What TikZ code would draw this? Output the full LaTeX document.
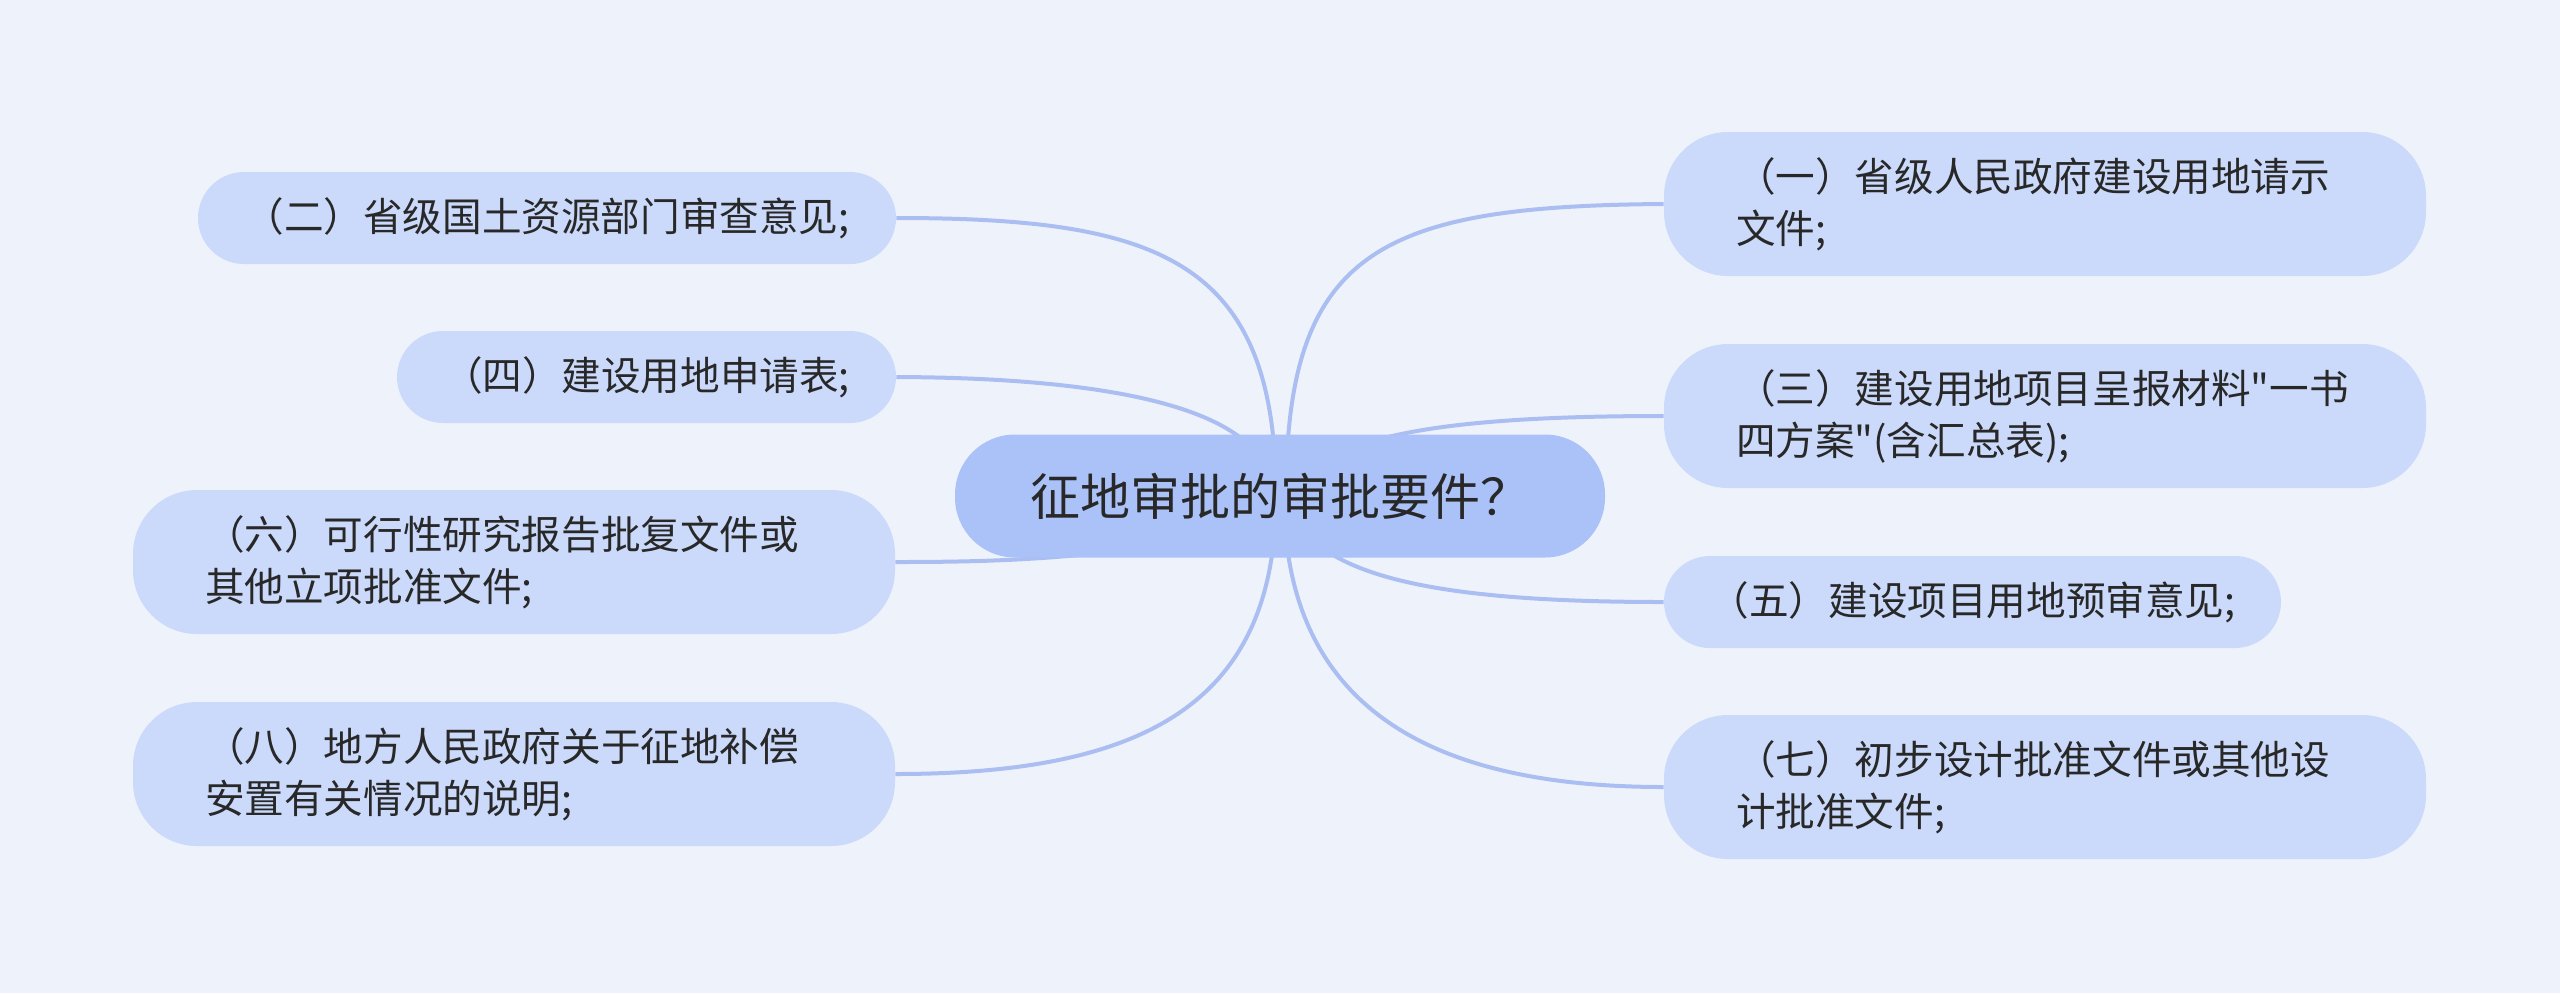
\documentclass[tikz,border=0pt]{standalone}
\usepackage{fontspec}
\newfontfamily\cjkfont{Noto Sans CJK SC}
\usetikzlibrary{backgrounds}
\definecolor{bgc}{RGB}{238,242,251}
\definecolor{childfill}{RGB}{203,218,250}
\definecolor{rootfill}{RGB}{170,194,248}
\definecolor{linkc}{RGB}{170,190,242}
\definecolor{txtc}{RGB}{40,40,40}
\begin{document}
\begin{tikzpicture}[x=0.5pt,y=-0.5pt,
  childbox/.style={fill=childfill, text=txtc, inner ysep=0pt,
    font=\cjkfont\fontsize{19.8pt}{26pt}\selectfont},
  twoline/.style={childbox, text width=309pt, align=left, inner xsep=36pt,
    minimum height=72pt, rounded corners=32pt},
  oneline/.style={childbox, align=center, inner xsep=0pt,
    minimum height=46pt, rounded corners=23pt},
  rootbox/.style={fill=rootfill, text=txtc, minimum width=325pt, minimum height=61.5pt,
    rounded corners=30pt, inner sep=0pt, font=\cjkfont\fontsize{25pt}{30pt}\selectfont},
  link/.style={draw=linkc, line width=2pt}]
\useasboundingbox (0,0) rectangle (2560,993);

\node[rootbox] (root) at (1280,496) {征地审批的审批要件？};

\node[twoline] (r1) at (2045,204) {（一）省级人民政府建设用地请示\\文件;};
\node[twoline] (r3) at (2045,416) {（三）建设用地项目呈报材料"一书\\四方案"(含汇总表);};
\node[oneline, minimum width=308.5pt] (r5) at (1972.5,602) {（五）建设项目用地预审意见;};
\node[twoline] (r7) at (2045,787) {（七）初步设计批准文件或其他设\\计批准文件;};

\node[oneline, minimum width=349pt] (l2) at (547,218) {（二）省级国土资源部门审查意见;};
\node[oneline, minimum width=249.5pt] (l4) at (646.5,377) {（四）建设用地申请表;};
\node[twoline] (l6) at (514,562) {（六）可行性研究报告批复文件或\\其他立项批准文件;};
\node[twoline] (l8) at (514,774) {（八）地方人民政府关于征地补偿\\安置有关情况的说明;};

\begin{pgfonlayer}{background}
\fill[bgc] (0,0) rectangle (2560,993);
\draw[link] ([xshift=3pt]root.center) .. controls (1286,250) and (1380,206) .. (r1.west);
\draw[link] ([xshift=5pt]root.center) .. controls (1320,440) and (1420,416) .. (r3.west);
\draw[link] ([xshift=5pt]root.center) .. controls (1300,580) and (1450,602) .. (r5.west);
\draw[link] ([xshift=2pt]root.center) .. controls (1284,700) and (1420,787) .. (r7.west);
\draw[link] ([xshift=-2pt]root.center) .. controls (1276,260) and (1160,218) .. (l2.east);
\draw[link] ([xshift=-5pt]root.center) .. controls (1275,420) and (1150,378) .. (l4.east);
\draw[link] (root.center) .. controls (1200,560) and (1000,562) .. (l6.east);
\draw[link] ([xshift=-2pt]root.center) .. controls (1276,700) and (1150,774) .. (l8.east);
\end{pgfonlayer}
\end{tikzpicture}
\end{document}
